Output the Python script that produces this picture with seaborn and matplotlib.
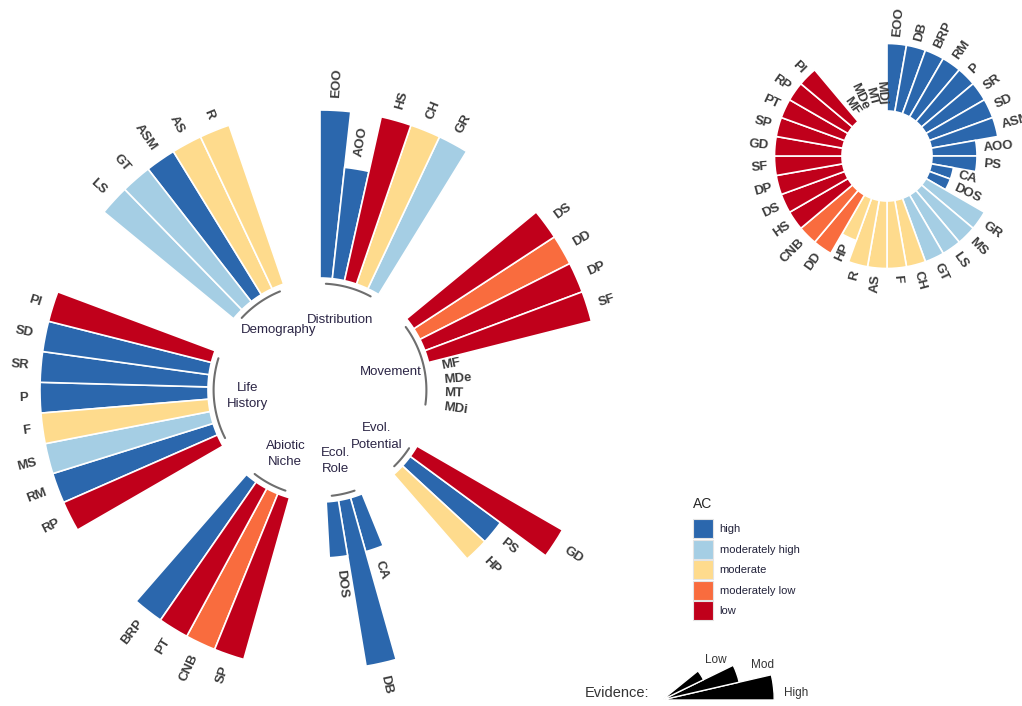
import numpy as np
import pandas as pd
import matplotlib
matplotlib.use('Agg')
import matplotlib.pyplot as plt
from matplotlib.patches import Patch
import seaborn as sns

# traits in clockwise order, grouped by attribute category
group_names = ['Distribution', 'Movement', 'Evol.\nPotential', 'Ecol.\nRole',
               'Abiotic\nNiche', 'Life\nHistory', 'Demography']
group_sizes = [5, 8, 3, 3, 4, 8, 5]
traits = ['EOO', 'AOO', 'HS', 'CH', 'GR',
          'DS', 'DD', 'DP', 'SF', 'MF', 'MDe', 'MT', 'MDi',
          'GD', 'PS', 'HP',
          'CA', 'DB', 'DOS',
          'SP', 'CNB', 'PT', 'BRP',
          'RP', 'RM', 'MS', 'F', 'P', 'SR', 'SD', 'PI',
          'LS', 'GT', 'ASM', 'AS', 'R']
ac = ['high', 'high', 'low', 'moderate', 'moderately high',
      'low', 'moderately low', 'low', 'low', None, None, None, None,
      'low', 'high', 'moderate',
      'high', 'high', 'high',
      'low', 'moderately low', 'low', 'high',
      'low', 'high', 'moderately high', 'moderate', 'high', 'high', 'high', 'low',
      'moderately high', 'moderately high', 'high', 'moderate', 'moderate']
evidence = ['High', 'Mod', 'High', 'High', 'High',
            'High', 'High', 'High', 'High', None, None, None, None,
            'High', 'Mod', 'Mod',
            'Low', 'High', 'Low',
            'High', 'High', 'High', 'High',
            'High', 'High', 'High', 'High', 'High', 'High', 'High', 'High',
            'High', 'High', 'High', 'High', 'High']

# order of the small overview wheel (sorted by AC)
inset_order = ['EOO', 'DB', 'BRP', 'RM', 'P', 'SR', 'SD', 'ASM', 'AOO', 'PS', 'CA', 'DOS',
               'GR', 'MS', 'LS', 'GT', 'CH', 'F', 'AS', 'R', 'HP', 'DD', 'CNB',
               'HS', 'DS', 'DP', 'SF', 'GD', 'SP', 'PT', 'RP', 'PI',
               'MF', 'MDe', 'MT', 'MDi']

ac_levels = ['high', 'moderately high', 'moderate', 'moderately low', 'low']
ac_colors = ['#2b67ad', '#a5cee4', '#fedb8d', '#f96c3e', '#c0001b']
evidence_levels = ['Low', 'Mod', 'High']

ev_score = {lvl: i + 1 for i, lvl in enumerate(evidence_levels)}
HOLE = 2.0      # empty centre, in evidence units
GAP = 3         # empty slots between groups

df = pd.DataFrame({'trait': traits,
                   'group': np.repeat(group_names, group_sizes),
                   'AC': ac, 'evidence': evidence})
df['height'] = df['evidence'].map(ev_score).fillna(0)

slots, s = [], 0
for n in group_sizes:
    slots.extend(range(s, s + n))
    s += n + GAP
n_slots = s
df['theta'] = (np.array(slots) + 0.5) * 2 * np.pi / n_slots

inset = df.set_index('trait').loc[inset_order].reset_index()
inset['theta'] = (np.arange(len(inset)) + 0.5) * 2 * np.pi / len(inset)


def circular_bars(ax, data, label_gap, fs):
    ax.set_theta_zero_location('N')
    ax.set_theta_direction(-1)
    bars = data.dropna(subset=['AC'])
    sns.barplot(data=bars, x='theta', y='height', hue='AC', hue_order=ac_levels,
                palette=ac_colors, native_scale=True, width=1, dodge=False,
                saturation=1, errorbar=None, legend=False, bottom=HOLE,
                edgecolor='white', linewidth=1.2, ax=ax)
    for _, row in data.iterrows():
        ang = 90 - np.degrees(row.theta)
        ang = (ang + 180) % 360 - 180
        if -90 <= ang <= 90:
            rot, ha = ang, 'left'
        else:
            rot, ha = (ang - 180 if ang > 0 else ang + 180), 'right'
        ax.text(row.theta, HOLE + row.height + label_gap, row.trait,
                rotation=rot, rotation_mode='anchor', ha=ha, va='center',
                fontsize=fs, fontweight='bold', color='#3c3c3c')
    ax.set_ylim(0, 5.2)
    ax.set_axis_off()


sns.set_theme(style='white')
plt.rcParams['font.family'] = ['Liberation Sans', 'DejaVu Sans']

W, H = 1022, 706
fig = plt.figure(figsize=(W / 100, H / 100), dpi=100)


def polar_axes(cx, cy, rad):
    return fig.add_axes([(cx - rad) / W, (H - cy - rad) / H, 2 * rad / W, 2 * rad / H],
                        projection='polar')


# main wheel
ax = polar_axes(320, 390, 5.2 * 56)
circular_bars(ax, df, 0.22, 9.5)
for g in group_names:
    sub = df[df.group == g]
    th = np.linspace(sub.theta.min(), sub.theta.max(), 60)
    ax.plot(th, np.full_like(th, 1.9), color='#6e6e6e', lw=1.5)
    ax.text(sub.theta.mean(), 1.3, g, ha='center', va='center', fontsize=9.5,
            color='#2b2545', linespacing=1.5)
ax.set_ylim(0, 5.2)

# overview wheel
ax2 = polar_axes(887, 156, 5.2 * 22.5)
circular_bars(ax2, inset, 0.3, 9.5)

# AC legend
handles = [Patch(facecolor=c, edgecolor='#e4e4e4', linewidth=0.8) for c in ac_colors]
leg = fig.legend(handles, ac_levels, title='AC', loc='upper left',
                 bbox_to_anchor=(693 / W, 1 - 497 / H), frameon=False,
                 fontsize=8, title_fontsize=10, handlelength=1.8, handleheight=2.25,
                 handletextpad=0.6, labelspacing=0.14, borderpad=0, borderaxespad=0,
                 alignment='left')
leg._legend_box.sep = 6
for t in leg.get_texts():
    t.set_color('#22223a')

# evidence legend wedges
ev = pd.DataFrame({'evidence': evidence_levels})
ev['length'] = ev['evidence'].map(ev_score) + 0.4
ev['theta'] = np.radians((len(ev) - 1 - np.arange(len(ev)) + 0.5) * 13)
ev_ax = polar_axes(662, 700, 3.5 * 33)
sns.barplot(data=ev, x='theta', y='length', color='black', native_scale=True,
            width=1, saturation=1, errorbar=None, edgecolor='white', linewidth=1.0,
            ax=ev_ax)
ev_ax.set_ylim(0, 3.5)
ev_ax.set_axis_off()
fig.text(585 / W, 1 - 693 / H, 'Evidence:', ha='left', va='center', fontsize=10.5,
         color='#333333')
for lbl, (x, y) in zip(evidence_levels, [(716, 660), (762, 665), (796, 693)]):
    fig.text(x / W, 1 - y / H, lbl, ha='center', va='center', fontsize=8.5, color='#333333')

fig.savefig('out.png', dpi=100)
